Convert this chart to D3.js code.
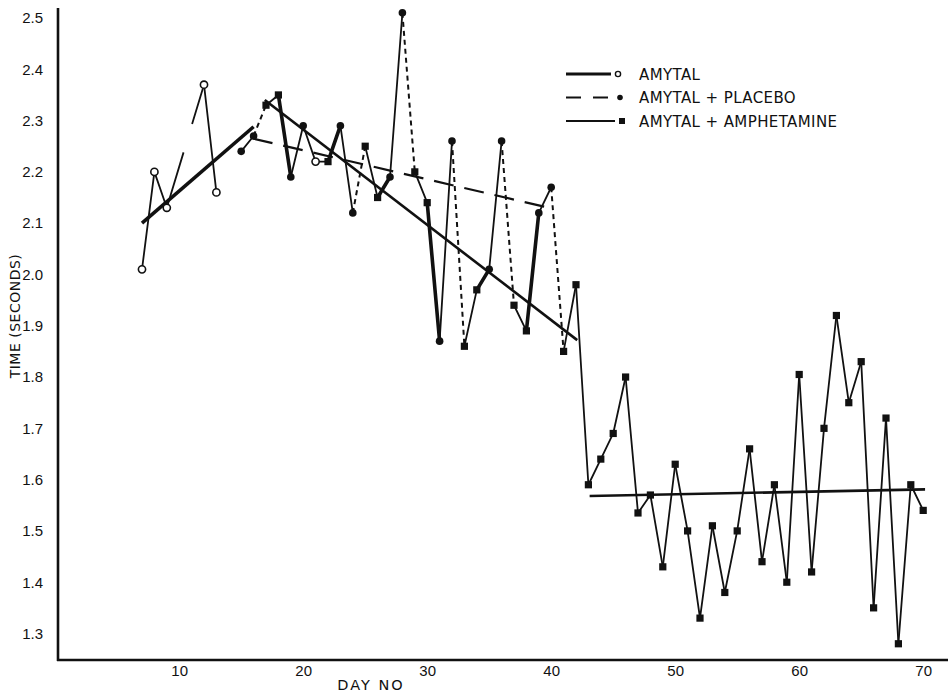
<!DOCTYPE html>
<html><head><meta charset="utf-8">
<script src="https://cdn.jsdelivr.net/npm/d3@7"></script>
<style>
body{margin:0;background:#fff}
svg{display:block;font-family:"DejaVu Sans",sans-serif}
</style>
</head><body>
<svg id="chart" width="948" height="695"></svg>
<script>
// ---- data ----
const days = [7,8,9,12,13,
  15,16,17,18,19,20,21,22,23,24,25,26,27,28,29,30,31,32,33,34,35,36,37,38,39,40,41,42,
  43,44,45,46,47,48,49,50,51,52,53,54,55,56,57,58,59,60,61,62,63,64,65,66,67,68,69,70];
const times = [2.01,2.20,2.13,2.37,2.16,
  2.24,2.27,2.33,2.35,2.19,2.29,2.22,2.22,2.29,2.12,2.25,2.15,2.19,2.51,2.20,2.14,1.87,2.26,1.86,1.97,2.01,2.26,1.94,1.89,2.12,2.17,1.85,1.98,
  1.59,1.64,1.69,1.80,1.535,1.57,1.43,1.63,1.50,1.33,1.51,1.38,1.50,1.66,1.44,1.59,1.40,1.805,1.42,1.70,1.92,1.75,1.83,1.35,1.72,1.28,1.59,1.54];
// A = Amytal, P = Amytal + Placebo, M = Amytal + Amphetamine
const conditions = ["A","A","A","A","A",
  "P","P","M","M","P","P","A","M","P","P","M","M","P","P","M","M","P","P","M","M","P","P","M","M","P","P","M","M",
  "M","M","M","M","M","M","M","M","M","M","M","M","M","M","M","M","M","M","M","M","M","M","M","M","M","M","M","M"];

const trendAmytalDays = [7.0, 16.0];      const trendAmytalTimes = [2.10, 2.288];
const trendPlaceboDays = [15.95, 40.0];   const trendPlaceboTimes = [2.265, 2.129];
const trendAmphDays1 = [16.9, 42.1];      const trendAmphTimes1 = [2.34, 1.872];
const trendAmphDays2 = [43.1, 70.15];     const trendAmphTimes2 = [1.568, 1.581];

const xTicks = [10,20,30,40,50,60,70];
const yTicks = [1.3,1.4,1.5,1.6,1.7,1.8,1.9,2.0,2.1,2.2,2.3,2.4,2.5];
const legendLabels = ["AMYTAL","AMYTAL + PLACEBO","AMYTAL + AMPHETAMINE"];
const legendConds = ["A","P","M"];

// ---- drawing ----
const svg = d3.select("#chart");
const x = d3.scaleLinear().domain([0,70]).range([55.2,923.2]);
const y = d3.scaleLinear().domain([1.3,2.5]).range([633.5,18]);
const axisY0 = 660, axisX0 = 58;

// axis lines
svg.append("line").attr("x1",axisX0).attr("x2",axisX0).attr("y1",8).attr("y2",axisY0+1)
  .attr("stroke","#111").attr("stroke-width",2.6);
svg.append("line").attr("x1",axisX0-1).attr("x2",948).attr("y1",axisY0).attr("y2",axisY0)
  .attr("stroke","#111").attr("stroke-width",2.6);

// tick labels through axes
const gx = svg.append("g").attr("transform",`translate(0,${axisY0})`)
  .call(d3.axisBottom(x).tickValues(xTicks).tickSize(0).tickPadding(5).tickFormat(d3.format("d")));
gx.select(".domain").remove();
gx.selectAll("text").style("font-size","15px").style("font-family","'Liberation Sans', sans-serif").style("fill","#111");

const gy = svg.append("g").attr("transform",`translate(${axisX0},0)`)
  .call(d3.axisLeft(y).tickValues(yTicks).tickSize(0).tickPadding(15).tickFormat(d3.format(".1f")));
gy.select(".domain").remove();
gy.selectAll("text").style("font-size","15px").style("font-family","'Liberation Sans', sans-serif").style("fill","#111");

svg.append("text").attr("x",371).attr("y",690).attr("text-anchor","middle")
  .style("font-size","14.5px").style("letter-spacing","2px").style("fill","#111").text("DAY NO");
svg.append("text").attr("transform","translate(20,316) rotate(-90)").attr("text-anchor","middle")
  .style("font-size","14px").style("letter-spacing","0.5px").style("fill","#111").text("TIME (SECONDS)");

// trend lines
function trend(ds, ts, w, dash){
  svg.append("line")
    .attr("x1",x(ds[0])).attr("y1",y(ts[0])).attr("x2",x(ds[1])).attr("y2",y(ts[1]))
    .attr("stroke","#111").attr("stroke-width",w).attr("stroke-dasharray",dash||null);
}
trend(trendAmytalDays,trendAmytalTimes,3.6);
trend(trendPlaceboDays,trendPlaceboTimes,2.2,"20,11");
trend(trendAmphDays1,trendAmphTimes1,2.6);
trend(trendAmphDays2,trendAmphTimes2,2.6);

// daily segments
const segs = svg.append("g");
for(let i=0;i<days.length-1;i++){
  const a=conditions[i], b=conditions[i+1];
  if(a==="A" && b==="P") continue;
  const x1=x(days[i]), y1=y(times[i]), x2=x(days[i+1]), y2=y(times[i+1]);
  const ln = segs.append("line").attr("x1",x1).attr("y1",y1).attr("x2",x2).attr("y2",y2)
    .attr("stroke","#111").attr("stroke-linecap","round");
  if(a==="P" && b==="M"){ ln.attr("stroke-width",2).attr("stroke-dasharray","5,4").attr("stroke-linecap","butt"); }
  else if(a==="M" && b==="P"){ ln.attr("stroke-width",3.6); }
  else { ln.attr("stroke-width",1.8); }
  if(days[i+1]-days[i]>1){
    const L=Math.hypot(x2-x1,y2-y1);
    ln.attr("stroke-dasharray",`${L*0.45},${L*0.23},${L}`).attr("stroke-linecap","butt");
  }
}

// markers
function marker(g, cond, cx, cy){
  if(cond==="M"){
    g.append("rect").attr("x",cx-3.6).attr("y",cy-3.6).attr("width",7.2).attr("height",7.2).attr("fill","#111");
  } else if(cond==="P"){
    g.append("circle").attr("cx",cx).attr("cy",cy).attr("r",3.8).attr("fill","#111");
  } else {
    g.append("circle").attr("cx",cx).attr("cy",cy).attr("r",3.6).attr("fill","#fff").attr("stroke","#111").attr("stroke-width",1.6);
  }
}
const mk = svg.append("g");
days.forEach((d,i)=>marker(mk, conditions[i], x(d), y(times[i])));

// legend
const lg = svg.append("g");
legendLabels.forEach((lab,i)=>{
  const yy = 74 + i*23.5;
  const cond = legendConds[i];
  const ln = lg.append("line").attr("x1",566).attr("x2",cond==="M"?615:611).attr("y1",yy).attr("y2",yy).attr("stroke","#111");
  if(cond==="A") ln.attr("stroke-width",3.2);
  else if(cond==="P") ln.attr("stroke-width",2).attr("stroke-dasharray","15,12");
  else ln.attr("stroke-width",2);
  if(cond==="A"){
    lg.append("circle").attr("cx",618).attr("cy",yy).attr("r",2.6).attr("fill","#fff").attr("stroke","#111").attr("stroke-width",1.4);
  } else if(cond==="P"){
    lg.append("circle").attr("cx",620).attr("cy",yy).attr("r",2.8).attr("fill","#111");
  } else {
    lg.append("rect").attr("x",619).attr("y",yy-3).attr("width",6).attr("height",6).attr("fill","#111");
  }
  lg.append("text").attr("x",639).attr("y",yy+5.5).style("font-size","15px").style("letter-spacing","0.4px").style("fill","#111").text(lab);
});
</script>
</body></html>
